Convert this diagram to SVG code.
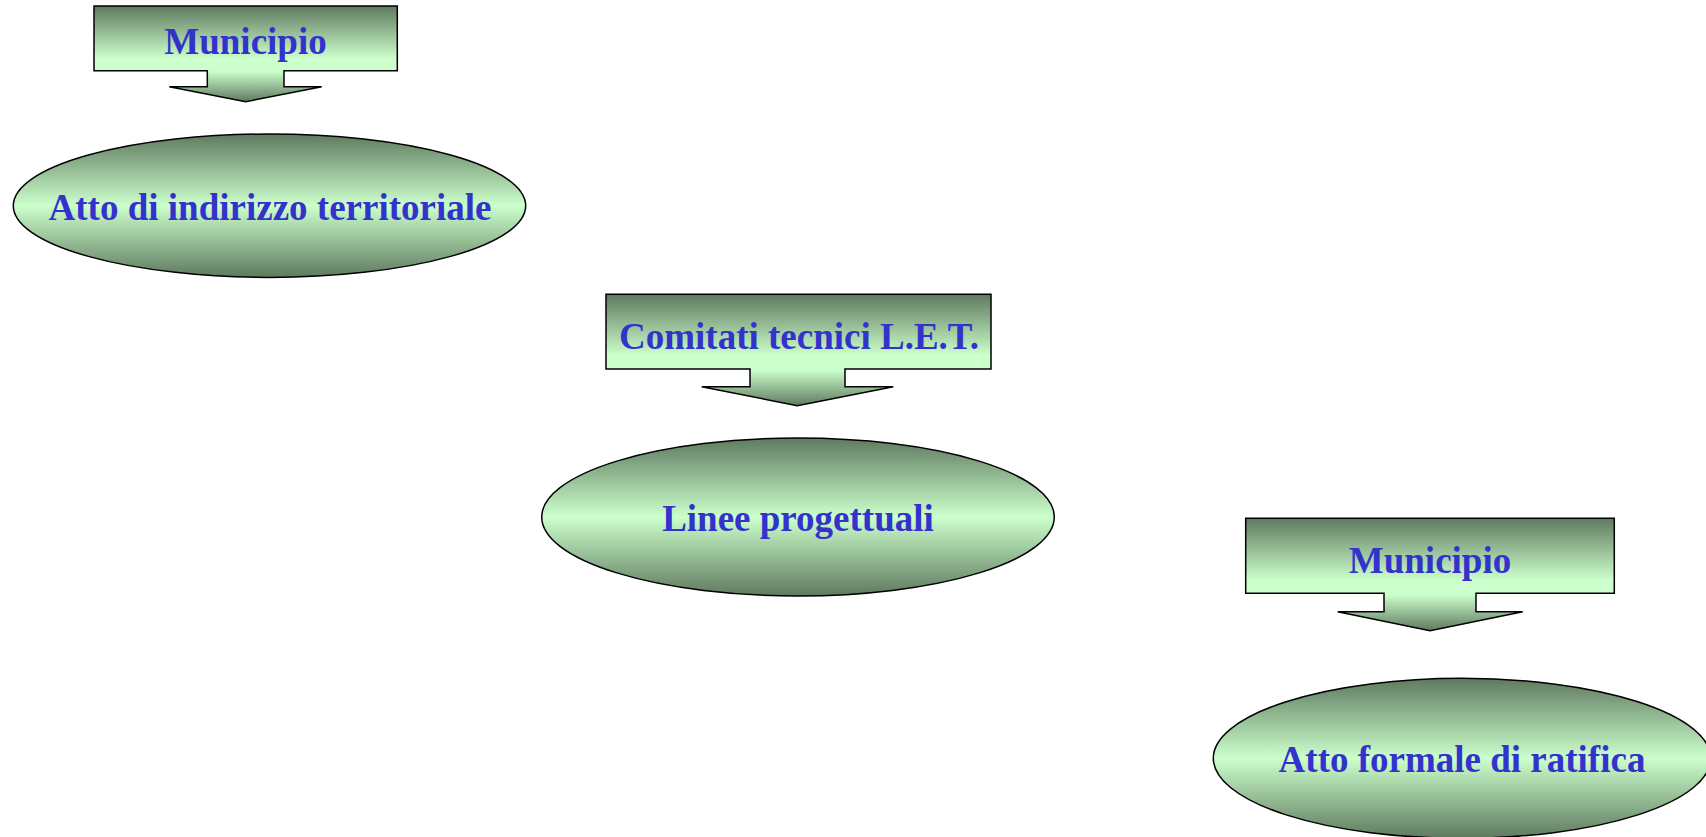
<svg xmlns="http://www.w3.org/2000/svg" width="1706" height="837" viewBox="0 0 1706 837">
  <defs>
    <linearGradient id="gEll" x1="0" y1="0" x2="0" y2="1">
      <stop offset="0" stop-color="#5f7a5f"/>
      <stop offset="0.5" stop-color="#ccffcc"/>
      <stop offset="1" stop-color="#5f7a5f"/>
    </linearGradient>
    <linearGradient id="gCall" x1="0" y1="0" x2="0" y2="1">
      <stop offset="0" stop-color="#5f7a5f"/>
      <stop offset="0.55" stop-color="#ccffcc"/>
      <stop offset="0.68" stop-color="#ccffcc"/>
      <stop offset="1" stop-color="#5f7a5f"/>
    </linearGradient>
  </defs>
  <style>
    .call { fill: url(#gCall); stroke: #000; stroke-width: 1.5; stroke-linejoin: miter; }
    .ell { fill: url(#gEll); stroke: #000; stroke-width: 1.5; }
    .lbl { font-family: "Liberation Serif", "Times New Roman", serif; font-weight: bold; font-size: 37px; fill: #3333cc; text-anchor: middle; }
  </style>
  <rect width="1706" height="837" fill="#ffffff"/>
  <g id="connectors"></g>
  <g id="municipio1">
    <path class="call" d="M94,6 H397.3 V70.7 H284 V86.7 H321.7 L245.7,101.7 L169.3,86.7 H207.3 V70.7 H94 Z"/>
    <text class="lbl" x="245.5" y="54">Municipio</text>
  </g>
  <g id="atto-indirizzo">
    <ellipse class="ell" cx="269.5" cy="205.7" rx="256.2" ry="71.7"/>
    <text class="lbl" x="270" y="219.5">Atto di indirizzo territoriale</text>
  </g>
  <g id="comitati">
    <path class="call" d="M606,294.3 H991 V369 H845 V386.7 H893.3 L797.3,405.7 L701.7,386.7 H750 V369 H606 Z"/>
    <text class="lbl" x="799" y="349">Comitati tecnici L.E.T.</text>
  </g>
  <g id="linee">
    <ellipse class="ell" cx="798" cy="517" rx="256.3" ry="79"/>
    <text class="lbl" x="798" y="531">Linee progettuali</text>
  </g>
  <g id="municipio2">
    <path class="call" d="M1245.7,518.3 H1614.3 V593.3 H1476 V611.7 H1522.7 L1430,630.7 L1337.7,611.7 H1384 V593.3 H1245.7 Z"/>
    <text class="lbl" x="1430" y="572.7">Municipio</text>
  </g>
  <g id="atto-formale">
    <ellipse class="ell" cx="1462" cy="758.3" rx="248.7" ry="80"/>
    <text class="lbl" x="1462" y="772">Atto formale di ratifica</text>
  </g>
</svg>
